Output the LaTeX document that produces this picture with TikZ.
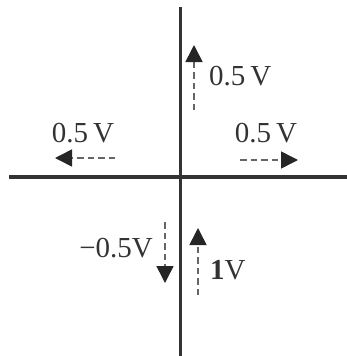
\documentclass[tikz,border=0pt]{standalone}
\usepackage{fontspec}
\setmainfont{Liberation Serif}
\usetikzlibrary{arrows.meta}
\begin{document}
\begin{tikzpicture}[x=1pt,y=-1pt,
  axis/.style={line width=3.6pt,draw=black!80},
  varrow/.style={line width=1.6pt, draw=black!60, dash pattern=on 6.5pt off 4pt,
    -{Triangle[length=17pt,width=17pt,color=black!85]}},
  lbl/.style={font=\fontsize{29}{29}\selectfont, text=black!80, inner sep=0pt}]
\useasboundingbox (0,0) rectangle (347,356);
% axes
\coordinate (vt) at (180.5,7);
\coordinate (vb) at (180.5,356);
\coordinate (hl) at (9,177);
\coordinate (hr) at (347,177);
\draw[axis] (vt) -- (vb);
\draw[axis] (hl) -- (hr);
% arrow end points
\coordinate (a1s) at (194,110); \coordinate (a1e) at (194,45);
\coordinate (a2s) at (115,158); \coordinate (a2e) at (55,158);
\coordinate (a3s) at (240,160); \coordinate (a3e) at (298,160);
\coordinate (a4s) at (165,222); \coordinate (a4e) at (165,283);
\coordinate (a5s) at (198,295); \coordinate (a5e) at (198,228);
\draw[varrow] (a1s) -- (a1e);
\draw[varrow] (a2s) -- (a2e);
\draw[varrow] (a3s) -- (a3e);
\draw[varrow] (a4s) -- (a4e);
\draw[varrow] (a5s) -- (a5e);
% labels
\node[lbl, anchor=west] (l1) at (209,76) {0.5\,V};
\node[lbl] (l2) at (83,133) {0.5\,V};
\node[lbl] (l3) at (266,133) {0.5\,V};
\node[lbl, anchor=east] (l4) at (153,248) {−0.5V};
\node[lbl, anchor=west] (l5) at (210,270) {\textbf{1}V};
\end{tikzpicture}
\end{document}
